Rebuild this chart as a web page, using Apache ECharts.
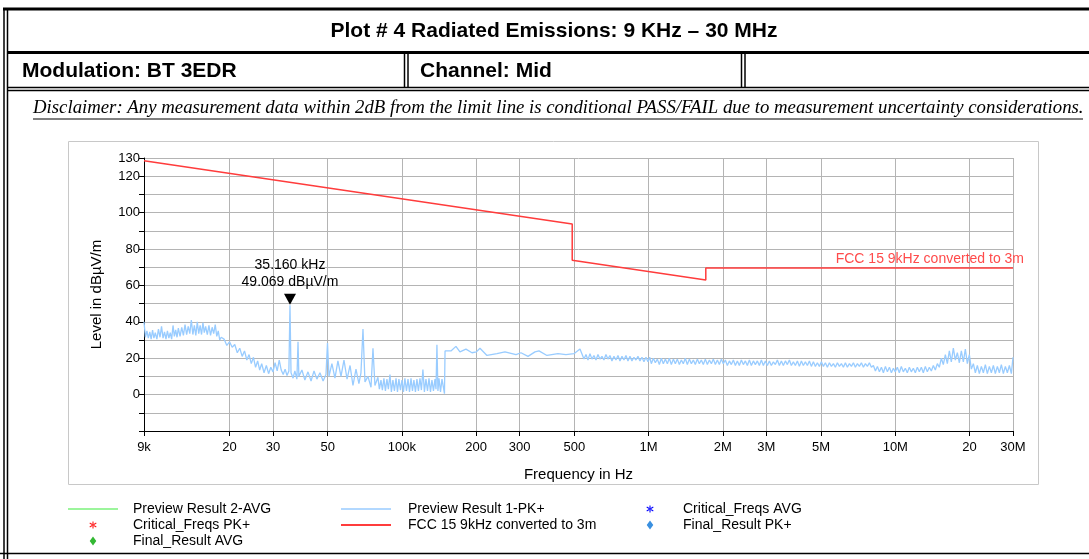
<!DOCTYPE html>
<html>
<head>
<meta charset="utf-8">
<title>Plot # 4 Radiated Emissions</title>
<script src="https://cdn.jsdelivr.net/npm/echarts@6/dist/echarts.min.js"></script>
<style>
  html, body { margin: 0; padding: 0; background: #fff; }
  #chart { width: 1089px; height: 559px; }
</style>
</head>
<body>
<div id="chart"></div>
<script>
// axis ticks (frequency in Hz) and their labels
var freqTicks = [9e3, 2e4, 3e4, 5e4, 1e5, 2e5, 3e5, 5e5, 1e6, 2e6, 3e6, 5e6, 1e7, 2e7, 3e7];
var freqTickLabels = ['9k', '20', '30', '50', '100k', '200', '300', '500', '1M', '2M', '3M', '5M', '10M', '20', '30M'];
var levelTickLabels = [0, 20, 40, 60, 80, 100, 120, 130];

// FCC 15 limit, converted to 3m (Hz / dBµV/m)
var limitFreq = [9e3, 490e3, 490e3, 1.705e6, 1.705e6, 30e6];
var limitLevel = [128.5, 93.8, 73.8, 63.0, 69.5, 69.5];

// Preview Result 1-PK+ (kHz / dBµV/m)
var pkFreq = [
  // 9 - 20 kHz
  9.0, 9.12, 9.25, 9.37, 9.5, 9.62, 9.75, 9.87, 10.0, 10.15, 10.3, 10.45, 10.6, 10.75, 10.9, 11.05, 11.2, 11.35, 11.5, 11.65,
  11.8, 11.95, 12.1, 12.25, 12.4, 12.6, 12.8, 13.0, 13.2, 13.4, 13.6, 13.8, 14.0, 14.2, 14.4, 14.6, 14.8, 15.0, 15.2, 15.4,
  15.6, 15.8, 16.0, 16.25, 16.5, 16.75, 17.0, 17.25, 17.5, 17.75, 18.0, 18.25, 18.5, 19.0, 19.5, 20.0,
  // 20 - 36 kHz
  20.5, 21, 21.5, 22, 22.5, 23, 23.5, 24, 24.5, 25, 25.5, 26, 26.5, 27, 27.6, 28.2, 28.8, 29.4, 30, 30.6,
  31.2, 31.8, 32.4, 33, 33.6, 34.2, 34.8, 35.16, 35.5,
  // 36 - 150 kHz
  36.2, 36.8, 37.5, 37.9, 38.2, 39.3, 40.4, 41.6, 42.8, 44.0, 45.2, 46.5, 47.9, 49.2, 49.9, 50.6, 52.0, 53.5, 55.0, 56.6,
  58.2, 59.9, 61.6, 63.3, 65.1, 66.9, 68.2, 69.5, 70.8, 72.8, 74.9, 76.3, 77.7,
  79.9, 81.0, 82.2, 83.3, 84.5, 85.7, 86.9, 88.1, 89.4, 90.6, 91.9, 93.2, 94.6, 95.9, 97.2, 98.6, 100, 101.4, 102.8, 104.3,
  105.8, 107.3, 108.8, 110.3, 111.8, 113.4, 115.0, 116.6, 118.3, 119.9, 121.6, 123.3, 125.1, 126.9, 128.7, 130.5, 132.3, 134.2, 136.1, 137.4,
  138.6, 139.9, 141.3, 143.3, 145.3, 147.0, 148.7,
  // 150 - 530 kHz
  149.5, 158.0, 165.5, 171.8, 181.7, 192.2, 200.4, 207.1, 221.1, 242.7, 261.5, 289.9, 303.7, 324.3, 346.2, 359.3, 387.1, 428.9, 462.1, 498.1,
  526.8,
  // 0.55 - 1 MHz
  546.9, 557.2, 567.6, 578.3, 589.1, 600.3, 611.6, 623.2, 634.8, 646.8, 658.8, 671.3, 683.8, 696.9, 710.0, 723.5, 737.0, 751.1, 765.2, 779.7,
  794.2, 809.3, 824.5, 840.1, 855.7, 872.0, 888.3, 905.2, 922.1, 939.7, 957.3, 975.5, 993.7,
  // 1 - 2 MHz
  1009.6, 1025.5, 1045, 1064.5, 1084.8, 1105, 1126, 1147, 1169, 1191, 1213.5, 1236, 1259.5, 1283, 1307.5, 1332, 1357, 1382, 1408.5, 1435,
  1462.5, 1490, 1518, 1546, 1575.5, 1605, 1635.5, 1666, 1698, 1730, 1763, 1796, 1830, 1864, 1899.5, 1935, 1971.5, 2008,
  // 2 - 5 MHz
  2046.5, 2085, 2124.5, 2164, 2205.5, 2247, 2289.5, 2332, 2376.5, 2421, 2467, 2513, 2561, 2609, 2658.5, 2708, 2759.5, 2811, 2864.5, 2918,
  2973.5, 3029, 3086.5, 3144, 3204, 3264, 3326, 3388, 3452.5, 3517, 3584, 3651, 3720.5, 3790, 3862, 3934, 4009, 4084, 4161.5, 4239,
  4320, 4401, 4484.5, 4568, 4655, 4742, 4832, 4922, 5016, 5110,
  // 5 - 8 MHz
  5207, 5304, 5405, 5506, 5611, 5716, 5824.5, 5933, 6046, 6159, 6276, 6393, 6515, 6637, 6763, 6889, 7020, 7151, 7287.5, 7424,
  7565, 7706, 7852.5, 7999, 8151.5,
  // 8 - 14.5 MHz
  8304, 8462, 8620, 8784, 8948, 9118, 9288, 9465, 9642, 9821, 10000, 10190.5, 10381, 10578.5, 10776, 10981, 11186, 11399, 11612, 11833,
  12054, 12283.5, 12513, 12751, 12989, 13236, 13483, 13739.5, 13996, 14262.5, 14529,
  // 14.5 - 20 MHz
  14805.5, 15082, 15369, 15656, 15954, 16252, 16561, 16870, 17191, 17512, 17845.5, 18179, 18525, 18871, 19230, 19589, 19961.5,
  // 20 - 30 MHz
  20334, 20721, 21108, 21510, 21912, 22329, 22746, 23178.5, 23611, 24060.5, 24510, 24976.5, 25443, 25927, 26411, 26913.5, 27416, 27938, 28460, 29001.5,
  29543, 30000
];
var pkLevel = [
  40, 31.5, 35, 31, 34.5, 30.5, 35.5, 31, 34, 30.5, 36, 31.5, 37.5, 31, 34.5, 30.5, 35, 31, 34, 30.5,
  38, 32, 35.5, 31.5, 36.5, 32, 37, 32.5, 38.5, 33, 37.5, 33.5, 41, 33, 38, 32.5, 40, 33.5, 38, 33,
  39.5, 34, 37.5, 33, 38, 32.5, 37, 33.5, 38.5, 32, 35, 30, 31.5, 30.5, 27, 29,
  26, 27.5, 23, 25.5, 21, 24, 19, 22, 17, 20.5, 15, 18.5, 13.5, 17, 12, 16, 11.5, 15, 12.5, 17.5,
  13, 19, 13.5, 11, 14, 10.5, 13, 49.069, 12,
  9, 13, 8.5, 29, 10, 13.5, 8, 12.5, 7.5, 13, 8.5, 12, 7.5, 11, 28.3, 10, 17, 9, 18.5, 10,
  19, 8.5, 16, 5, 14, 6, 12, 36, 7, 10, 4, 25.5, 5,
  9.5, 3, 8, 2.5, 9, 2, 8.5, 3, 11, 1.5, 8, 2, 9, 1.5, 8.5, 2.5, 8, 1.5, 9, 2,
  8.5, 1.5, 9, 2, 8, 1.5, 8.5, 2, 9, 2.5, 13.7, 1.5, 8.5, 2, 9, 1.5, 8, 2, 8.5, 3,
  27.4, 2, 9, 1.5, 8.5, 7.5, 0.5,
  24, 24, 26.5, 23.5, 25, 23, 23.5, 25.5, 21.5, 22.5, 23.5, 22, 23, 21, 23.5, 24, 21.5, 22.5, 22, 22.5,
  25,
  19.5, 22, 19, 22.5, 19.5, 21.5, 19, 22, 19.5, 21, 19, 22, 19.5, 21.5, 18.5, 21, 19, 21.5, 18.5, 21,
  19, 21.5, 18.5, 21, 18.5, 20.5, 19, 21, 18.5, 20.5, 18, 20.5, 18,
  20.5, 17, 20, 17.5, 19.5, 16.5, 20, 17, 19.5, 17, 20, 16.5, 19.5, 17, 19.5, 16.5, 19, 17, 20, 16.5,
  19.5, 17, 19, 16.5, 19.5, 17, 19, 16.5, 19.5, 16.5, 19, 17, 19.5, 16.5, 19, 16.5, 19.5, 17,
  19, 16, 18.5, 16.5, 19, 16, 18.5, 16, 19, 16.5, 18.5, 16, 19, 16, 18.5, 16.5, 18.5, 16, 19, 16,
  18.5, 16, 18.5, 16, 18, 16.5, 19, 16, 18.5, 16, 18.5, 16.5, 19, 16, 18, 16, 18.5, 15.5, 18.5, 16,
  18, 16, 18.5, 15.5, 18, 15.5, 17.5, 15.5, 18, 15.5,
  17.5, 15, 17.5, 15.5, 17, 15, 17.5, 15.5, 17, 15, 17.5, 15, 17, 15.5, 17.5, 15, 17, 15.5, 17.5, 15,
  17, 15.5, 17.5, 15, 16,
  13, 15.5, 12.5, 15, 12, 15.5, 12.5, 15, 12, 14.5, 12.5, 15, 12, 15.5, 12.5, 14.5, 12, 15, 12.5, 14.5,
  12, 15, 12.5, 15, 12, 15.5, 12.5, 15, 13, 16, 13.5,
  17, 15, 20, 16.5, 22, 17, 24, 18, 25.5, 19, 23, 17.5, 24, 18, 25, 17, 22,
  14, 17, 12, 16, 11.5, 15.5, 12, 16.5, 11.5, 15.5, 12, 16, 11.5, 15.5, 12, 16.5, 11.5, 15.5, 12, 16,
  11.5, 20.5
];

// marker on the highest peak
var peakFreq = 35.16;   // kHz
var peakLevel = 49.069;

var font = '"Liberation Sans", Arial, sans-serif';
var lg = function (hz) { return Math.log10(hz); };
var tickPos = freqTicks.map(lg);

var pkData = pkFreq.map(function (f, i) { return [lg(f * 1000), pkLevel[i]]; });
var limitData = limitFreq.map(function (f, i) { return [lg(f), limitLevel[i]]; });

// legend icons drawn in a 50x10 box (tiny corner dots fix the box)
var box = 'M0,0h0.01v0.01h-0.01z M50,10h-0.01v-0.01h0.01z ';
var lineIcon = function (w) { return 'path://' + box + 'M0,' + (5 - w / 2) + 'H50V' + (5 + w / 2) + 'H0Z'; };
var diamondIcon = 'path://' + box + 'M25,0.5L28.3,5L25,9.5L21.7,5Z';
var starIcon = 'path://' + box +
  'M24.45,1.4h1.1v7.2h-1.1z ' +
  'M21.98,7.38L28.58,3.58L28.03,2.62L21.43,6.42Z ' +
  'M21.43,3.58L28.03,7.38L28.58,6.42L21.98,2.62Z';
var asterisk = 'path://M4.4,0h1.2v10h-1.2z M0.3,2.1l0.6,-1l8.8,5.1l-0.6,1z M0.3,7.9l8.8,-5.1l0.6,1l-8.8,5.1z';

var chart = echarts.init(document.getElementById('chart'));

var hline = function (x1, x2, y, w) {
  return { type: 'line', shape: { x1: x1, y1: y, x2: x2, y2: y }, style: { stroke: '#000', lineWidth: w } };
};
var vline = function (x, y1, y2, w) {
  return { type: 'line', shape: { x1: x, y1: y1, x2: x, y2: y2 }, style: { stroke: '#000', lineWidth: w } };
};

var legendBase = {
  top: 502, orient: 'vertical', padding: 0, itemWidth: 50, itemHeight: 10, itemGap: 2,
  selectedMode: false
};

chart.setOption({
  animation: false,
  textStyle: { fontFamily: font },
  grid: { left: 144, right: 76, top: 158, bottom: 128, containLabel: false },
  xAxis: {
    type: 'value',
    min: lg(9e3),
    max: lg(3e7),
    name: 'Frequency in Hz',
    nameLocation: 'middle',
    nameGap: 36,
    nameTextStyle: { color: '#000', fontSize: 15, fontFamily: font },
    axisLine: { onZero: false, lineStyle: { color: '#000', width: 1 } },
    axisTick: { customValues: tickPos, length: 5, lineStyle: { color: '#000' } },
    axisLabel: {
      customValues: tickPos,
      color: '#000',
      fontSize: 13,
      margin: 10,
      formatter: function (v) {
        for (var i = 0; i < tickPos.length; i++) {
          if (Math.abs(tickPos[i] - v) < 1e-6) return freqTickLabels[i];
        }
        return '';
      }
    },
    splitLine: { show: true, lineStyle: { color: '#b4b4b4', width: 1 } }
  },
  yAxis: {
    type: 'value',
    min: -20,
    max: 130,
    interval: 10,
    name: 'Level in dBµV/m',
    nameLocation: 'middle',
    nameGap: 40,
    nameTextStyle: { color: '#000', fontSize: 15, fontFamily: font },
    axisLine: { show: true, onZero: false, lineStyle: { color: '#000', width: 1 } },
    axisTick: { show: true, length: 5, lineStyle: { color: '#000' } },
    axisLabel: { customValues: levelTickLabels, color: '#000', fontSize: 13, margin: 4 },
    splitLine: { show: true, lineStyle: { color: '#b4b4b4', width: 1 } }
  },
  legend: [
    Object.assign({}, legendBase, {
      left: 68,
      textStyle: { fontSize: 14, color: '#000', padding: [0, 0, 0, 10] },
      data: [
        { name: 'Preview Result 2-AVG', icon: lineIcon(1.5) },
        { name: 'Critical_Freqs PK+', icon: starIcon },
        { name: 'Final_Result AVG', icon: diamondIcon }
      ]
    }),
    Object.assign({}, legendBase, {
      left: 341,
      textStyle: { fontSize: 14, color: '#000', padding: [0, 0, 0, 12] },
      data: [
        { name: 'Preview Result 1-PK+', icon: lineIcon(1.5) },
        { name: 'FCC 15 9kHz converted to 3m', icon: lineIcon(2.2) }
      ]
    }),
    Object.assign({}, legendBase, {
      left: 625,
      textStyle: { fontSize: 14, color: '#000', padding: [0, 0, 0, 3] },
      data: [
        { name: 'Critical_Freqs AVG', icon: starIcon },
        { name: 'Final_Result PK+', icon: diamondIcon }
      ]
    })
  ],
  series: [
    {
      name: 'Preview Result 2-AVG', type: 'line', symbol: 'none', data: [],
      color: '#7cf27c', lineStyle: { width: 1 }
    },
    {
      name: 'Critical_Freqs PK+', type: 'scatter', symbol: asterisk, symbolSize: 8, data: [],
      color: '#ff2020', itemStyle: { opacity: 1 }
    },
    {
      name: 'Final_Result AVG', type: 'scatter', symbol: 'diamond', symbolSize: [8, 11], data: [],
      color: '#33b833', itemStyle: { opacity: 1 }
    },
    {
      name: 'Preview Result 1-PK+', type: 'line', symbol: 'none', data: pkData,
      color: '#99ccff', lineStyle: { width: 1.3 }, z: 3,
      markPoint: {
        symbol: 'triangle', symbolRotate: 180, symbolSize: [12, 11], symbolOffset: [0, -6],
        itemStyle: { color: '#000' },
        label: {
          show: true, position: 'top', distance: 3, color: '#000', fontSize: 14, lineHeight: 17,
          formatter: peakFreq.toFixed(3) + ' kHz\n' + peakLevel.toFixed(3) + ' dBµV/m'
        },
        data: [{ coord: [lg(peakFreq * 1000), peakLevel] }]
      }
    },
    {
      name: 'FCC 15 9kHz converted to 3m', type: 'line', symbol: 'none', data: limitData,
      color: '#ff3c3c', lineStyle: { width: 1.5 }, z: 4,
      markPoint: {
        symbol: 'circle', symbolSize: 0, silent: true,
        label: {
          show: true, position: 'left', distance: 0, offset: [11, -9],
          color: '#ff4b4b', fontSize: 14,
          formatter: 'FCC 15 9kHz converted to 3m'
        },
        data: [{ coord: limitData[limitData.length - 1] }]
      }
    },
    {
      name: 'Critical_Freqs AVG', type: 'scatter', symbol: asterisk, symbolSize: 8, data: [],
      color: '#0a0aff', itemStyle: { opacity: 1 }
    },
    {
      name: 'Final_Result PK+', type: 'scatter', symbol: 'diamond', symbolSize: [8, 11], data: [],
      color: '#3a90e0', itemStyle: { opacity: 1 }
    }
  ],
  graphic: [
    // page frame
    vline(4, 8, 559, 1.5),
    vline(7.5, 8, 559, 1.5),
    { type: 'rect', shape: { x: 3, y: 7.5, width: 1086, height: 3 }, style: { fill: '#000' } },
    { type: 'rect', shape: { x: 7, y: 51, width: 1082, height: 3 }, style: { fill: '#000' } },
    hline(7, 1089, 87.5, 1.5),
    hline(7, 1089, 90.5, 1.5),
    vline(404.5, 54, 87.5, 1.5),
    vline(408, 54, 87.5, 1.5),
    vline(741.5, 54, 87.5, 1.5),
    vline(745, 54, 87.5, 1.5),
    hline(0, 1089, 553.5, 1.5),
    // header texts
    {
      type: 'text', x: 554, y: 31,
      style: { text: 'Plot # 4 Radiated Emissions: 9 KHz \u2013 30 MHz', fill: '#000', fontSize: 21, fontWeight: 'bold', fontFamily: font, align: 'center', verticalAlign: 'middle' }
    },
    {
      type: 'text', x: 22, y: 71,
      style: { text: 'Modulation: BT 3EDR', fill: '#000', fontSize: 21, fontWeight: 'bold', fontFamily: font, align: 'left', verticalAlign: 'middle' }
    },
    {
      type: 'text', x: 420, y: 71,
      style: { text: 'Channel: Mid', fill: '#000', fontSize: 21, fontWeight: 'bold', fontFamily: font, align: 'left', verticalAlign: 'middle' }
    },
    {
      type: 'text', x: 33, y: 108, scaleX: 1.043,
      style: { text: 'Disclaimer: Any measurement data within 2dB from the limit line is conditional PASS/FAIL due to measurement uncertainty considerations.', fill: '#000', fontSize: 18, fontStyle: 'italic', fontFamily: '"Liberation Serif", "Times New Roman", serif', align: 'left', verticalAlign: 'middle' }
    },
    hline(33, 1083, 119, 1),
    // chart panel
    { type: 'rect', z: -1, shape: { x: 68.5, y: 141.5, width: 970, height: 343 }, style: { fill: 'none', stroke: '#c8c8c8', lineWidth: 1 } }
  ]
});
</script>
</body>
</html>
